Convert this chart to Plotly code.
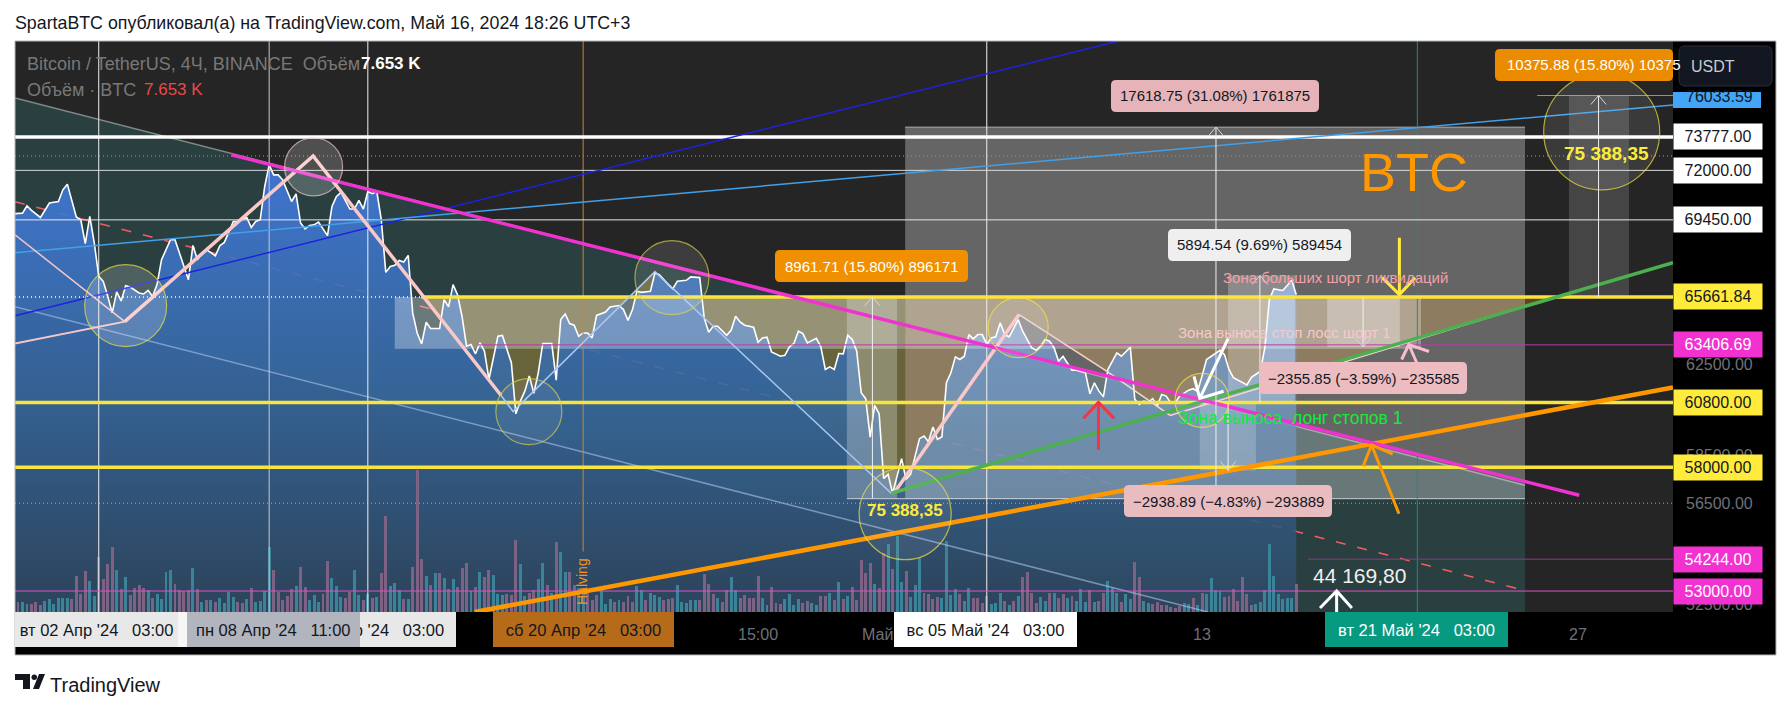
import numpy as np
import pandas as pd
import plotly.graph_objects as go

# 4H bars, bar 0 opens 29 Mar 23:00 (UTC+3)
BAR_START = pd.Timestamp("2024-03-29 23:00")

close_bar = [
    0, 2, 3, 4, 6, 8, 10, 11, 12, 13,
    14, 15, 16, 17, 18, 19, 20, 21, 22, 23,
    24, 25, 26, 28, 29, 30, 31, 32, 33, 35,
    36, 37, 38, 39, 40, 41, 42, 43, 45, 46,
    47, 49, 50, 52, 53, 54, 55, 56, 57, 58,
    59, 60, 62, 63, 64, 65, 66, 67, 68, 70,
    71, 72, 73, 75, 76, 77, 78, 79, 80, 81,
    82, 83, 84, 85, 86, 87, 88, 89, 90, 91,
    92, 93, 95, 96, 97, 98, 99, 100, 101, 102,
    103, 104, 105, 106, 108, 109, 111, 112, 113, 114,
    115, 116, 117, 118, 120, 121, 122, 123, 124, 125,
    126, 127, 128, 129, 130, 132, 133, 135, 136, 137,
    138, 139, 140, 141, 142, 143, 144, 146, 147, 148,
    150, 151, 153, 154, 155, 156, 157, 159, 160, 161,
    162, 163, 165, 166, 167, 168, 169, 171, 172, 173,
    174, 175, 176, 177, 179, 180, 181, 182, 183, 184,
    185, 186, 187, 188, 189, 190, 191, 192, 193, 194,
    195, 196, 198, 199, 200, 202, 203, 204, 205, 206,
    207, 208, 209, 210, 211, 212, 213, 214, 215, 216,
    217, 218, 219, 220, 221, 222, 224, 225, 227, 228,
    229, 230, 231, 232, 233, 234, 236, 237, 239, 240,
    241, 242, 243, 244, 246, 247, 249, 250, 251, 252,
    253, 254, 255, 256, 257, 258, 259, 260, 262, 263,
    264, 265, 266, 269, 270, 271, 272, 275, 276, 278,
    279, 280, 281, 283, 285, 286,
]
close_price = [
    69760, 69790, 70165, 69930, 69570, 70305, 70385, 70987, 71280, 70473,
    69595, 69456, 68255, 69625, 68300, 66650, 66410, 65700, 64900, 65900,
    65470, 66200, 66135, 65850, 65800, 65975, 65680, 66250, 67465, 68453,
    68453, 67795, 67135, 66491, 68170, 67465, 67795, 67957, 67660, 68155,
    68320, 69370, 69370, 69570, 69070, 69370, 69456, 71150, 72290, 71765,
    71765, 71505, 70385, 70780, 69290, 69000, 69170, 69200, 69340, 68660,
    70130, 70640, 70850, 70000, 70000, 70440, 70000, 70900, 70785, 70900,
    69456, 66845, 67135, 67185, 67430, 67350, 67675, 64900, 63960, 63450,
    64460, 64165, 64165, 65530, 65185, 66250, 65770, 64740, 63345, 63425,
    62995, 63500, 63115, 61830, 63805, 63840, 62585, 60300, 60860, 61305,
    61990, 61205, 62130, 63470, 63470, 61800, 64585, 64850, 64400, 64320,
    63805, 63960, 63960, 63730, 64780, 64945, 65185, 65250, 65057, 64550,
    65057, 65930, 65880, 65900, 65930, 66815, 66735, 66250, 66055, 66410,
    66460, 66625, 66590, 64660, 63990, 64270, 64270, 63850, 64085, 64740,
    64475, 64320, 64225, 63530, 63730, 63760, 63085, 62885, 62930, 63320,
    63470, 64040, 63930, 63500, 63710, 63320, 62280, 62400, 62280, 63010,
    62995, 63850, 63655, 63115, 61235, 60970, 59290, 60670, 60300, 57525,
    57700, 56900, 58365, 57496, 57700, 59220, 59335, 59090, 59725, 59190,
    59305, 61680, 62130, 62855, 62735, 62885, 63885, 63685, 63885, 63885,
    63425, 63730, 63780, 64435, 63885, 63780, 64585, 64040, 63275, 63160,
    63345, 63655, 63575, 63275, 62655, 62885, 62250, 62250, 62130, 61190,
    61680, 61305, 61055, 62280, 63040, 62885, 63300, 60938, 60715, 60860,
    60815, 60970, 60640, 61160, 61085, 60790, 60790, 61085, 61350, 61415,
    61300, 61990, 62735, 63160, 62960, 62280, 61905, 61585, 61930, 62200,
    63275, 65530, 66040, 65970, 66460, 65760,
]

# volume in thousands BTC, bars 1..286
volume = [
    2.7, 2.7, 2.2, 2.2, 2.7, 1.9, 3.1, 3.5, 2.2, 3.8,
    3.8, 3.8, 3.5, 9.9, 5.0, 11.3, 8.6, 4.5, 14.9, 9.1,
    13.2, 17.8, 11.6, 6.3, 9.6, 4.6, 6.6, 7.5, 6.6, 6.1,
    3.8, 4.9, 3.6, 11.0, 11.6, 7.7, 6.1, 5.8, 6.1, 12.1,
    6.3, 2.7, 3.4, 3.4, 2.7, 3.8, 2.5, 5.4, 4.2, 2.7,
    2.5, 3.6, 6.6, 2.7, 3.1, 5.8, 17.8, 11.6, 5.4, 3.4,
    4.5, 6.3, 7.2, 12.4, 6.9, 3.4, 4.7, 2.7, 5.0, 14.0,
    9.4, 7.2, 4.2, 3.9, 5.4, 11.6, 4.7, 3.4, 5.0, 3.9,
    4.2, 10.7, 26.3, 7.2, 8.0, 6.1, 3.6, 3.6, 12.4, 38.9,
    14.6, 9.9, 7.5, 10.7, 10.7, 9.4, 6.4, 9.1, 6.9, 12.1,
    13.5, 5.8, 6.9, 11.0, 9.6, 11.6, 10.2, 5.0, 4.7, 5.0,
    4.7, 19.7, 13.2, 4.5, 5.3, 6.1, 9.1, 13.5, 7.5, 5.2,
    19.2, 16.5, 11.0, 11.0, 7.5, 6.6, 5.6, 6.1, 3.4, 4.7,
    6.1, 2.3, 3.6, 2.8, 3.4, 2.8, 4.5, 2.8, 7.2, 6.1,
    3.4, 5.3, 4.7, 4.1, 3.4, 3.6, 3.8, 7.5, 2.8, 2.5,
    3.4, 3.4, 3.4, 10.5, 7.7, 5.0, 3.9, 2.8, 6.1, 9.6,
    6.1, 3.9, 4.7, 3.9, 3.9, 9.9, 3.9, 2.0, 6.9, 2.5,
    2.3, 3.6, 5.0, 2.0, 3.6, 2.5, 3.1, 2.5, 2.0, 4.5,
    4.5, 5.3, 3.4, 8.3, 3.6, 4.5, 6.9, 3.4, 14.3, 10.7,
    13.5, 7.7, 6.6, 16.1, 18.7, 11.8, 20.7, 8.3, 11.3, 4.2,
    7.5, 14.7, 5.3, 5.0, 3.6, 4.2, 3.9, 19.5, 4.7, 6.4,
    5.0, 3.1, 6.6, 3.9, 3.9, 2.5, 4.3, 2.3, 2.5, 5.3,
    3.1, 2.0, 3.1, 4.5, 9.6, 11.0, 5.3, 2.5, 4.2, 3.1,
    5.3, 5.3, 3.9, 5.0, 3.9, 4.5, 3.1, 6.4, 2.8, 6.1,
    2.8, 3.1, 5.3, 8.6, 6.6, 5.3, 2.8, 5.0, 3.6, 13.7,
    9.6, 3.1, 2.5, 2.3, 2.8, 2.0, 2.0, 1.5, 1.2, 1.7,
    2.5, 2.3, 3.9, 2.0, 5.3, 5.0, 9.4, 6.1, 5.8, 4.2,
    4.5, 6.4, 3.1, 9.6, 5.0, 2.0, 2.3, 2.8, 6.1, 18.7,
    9.9, 5.0, 3.6, 3.9, 3.9, 7.653,
]
# t = up bar, p = down bar
volume_dir = "".join([
    "pttppptttt", "ttppppttpp", "pptptppppt", "pttttppppt",
    "ptptpttttp", "ptpttttppp", "pptpptttpp", "tttppttptp",
    "tpptttptpp", "ptptptptpp", "ptptpptttp", "ppttppttpt",
    "pttppttppp", "tttptppptt", "ptttpppttt", "ttpppptppt",
    "tpppppttpp", "pttttppttp", "ptptptpppp", "ptpptpttpt",
    "ttpppptttt", "pttppppttt", "ptptpppptt", "ptpptptttp",
    "tpptttpttp", "pttppppppp", "ttptpttttp", "pppppptttt",
    "tttttp",
])

# trend lines: start/end bar and price
magenta_bars, magenta_prices = [48.6, 349.1], [72818, 56830]
orange_bars, orange_prices = [102.8, 370], [52197, 61470]
green_bars, green_prices = [195.7, 370], [56913, 67317]
blue_bars, blue_prices = [0.33, 246.4], [64770, 79113]
sky_bars, sky_prices = [0.33, 370], [67810, 75514]
channel_top_bars, channel_top_prices = [0.33, 337], [75900, 57245]
channel_low_bars, channel_low_prices = [0.33, 266.3], [65198, 52197]
channel_mid_bars, channel_mid_prices = [0.33, 336.6], [70370, 53040]
channel_fill_bars = [0.33, 337, 337, 0.33]
channel_fill_prices = [75900, 57245, 49240, 65198]

# zigzag pattern
zig_thin_bars, zig_thin_prices = [0.33, 24.8], [68700, 64490]
zig_low_bars, zig_low_prices = [0.33, 24.8], [63470, 64490]
zig_a_bars, zig_a_prices = [24.8, 66.8, 108.7], [64490, 72760, 61110]
zig_b_bars, zig_b_prices = [108.7, 111.4, 143, 195.7], [61110, 60400, 66880, 56913]
zig_c_bars, zig_c_prices = [196.6, 224.2], [57000, 64820]
zig_d_bars, zig_d_prices = [224.2, 243.8], [64820, 62190]
zig_e_bars, zig_e_prices = [243.8, 257.9, 344], [62190, 60230, 65661.84]

olive_left_bars = [90.9, 111.4, 137.4, 143, 149, 195.7, 198.8, 198.8]
olive_left_prices = [65661.84, 60400, 65661.84, 66880, 65661.84, 56913, 57730, 65661.84]
olive_right_bars = [198.8, 198.8, 224.2, 243.8, 257.9, 344]
olive_right_prices = [65661.84, 57730, 64820, 62190, 60230, 65661.84]

# date ranges / measure boxes: bar from, bar to, price low, price high, opacity
box_bar0 = [85, 198.8, 185.8, 292.9, 270.8, 264.5, 346.8]
box_bar1 = [313.8, 337, 197, 309.1, 285.7, 277, 360.2]
box_low = [63240, 56687, 56700, 63306, 60800, 57861, 65661.84]
box_high = [65661.84, 74306, 65661.84, 65661.84, 66695, 60800, 76037]
box_alpha = [0.30, 0.295, 0.25, 0.30, 0.25, 0.20, 0.15]

measure_bar = [268.1, 191.5, 277.9, 300.9, 270.8, 353.4]
measure_from = [56687, 56700, 60800, 65661.84, 60800, 65661.84]
measure_to = [74306, 65661.84, 66695, 63306, 57861, 76037]

# hand drawn arrows: tail, tip, barb, tip, barb
arrows = [
    ("#ffeb3b", 3, [309, 309, 305.2, 309, 312.5], [68550, 65770, 66590, 65770, 66590]),
    ("#f8bbd0", 3, [313.7, 311.1, 309.5, 311.1, 315.6], [62190, 63423, 62735, 63423, 63100]),
    ("#f23645", 3, [241.9, 241.9, 238.5, 241.9, 245.4], [58733, 60805, 60100, 60805, 60100]),
    ("#ff9800", 3, [308.9, 302.8, 300.9, 302.8, 307.5], [56070, 58950, 58040, 58950, 58557]),
    ("#ffffff", 3, [295, 295, 291.3, 295, 298.4], [52197, 53000, 52350, 53000, 52350]),
    ("#ffffff", 3, [270.8, 264.5, 269.8, 264.5, 263.2], [63700, 60982, 61300, 60982, 61965]),
]

# circles: centre bar, centre price, radius px
circle_bar = [25, 66.9, 114.9, 146.8, 224, 198.8, 354.1, 265]
circle_price = [65245, 72185, 60400, 66590, 64210, 56070, 74046, 60895]
circle_r = [41, 29, 33, 37, 30, 46, 58, 27]
circle_line = ["#f5e642", "#f5cfd0", "#d8d050", "#d8d050", "#f5e642", "#f5e642", "#f5e642", "#f5e642"]
circle_fill = [0.25, 0.28, 0.10, 0.16, 0.12, 0.10, 0.14, 0.10]

# price levels
level_price = [73777, 72000, 69450, 65661.84, 60800, 58000, 63406.69, 54244, 53000, 76033.59]
level_from = [0.33, 0.33, 0.33, 90.9, 0.33, 0.33, 103.5, 288.6, 0.33, 339.7]
level_color = ["#ffffff", "#d8d8d8", "#e8e8e8", "#fbe33c", "#f7e43c", "#f7e43c", "#b83aa5", "#8a3a85", "#e050c8", "#42a5f5"]
level_width = [3.5, 1, 1, 3.5, 3.5, 3.5, 1, 1, 1, 1]

vline_bar = [19, 57, 79, 127, 217, 313]
vline_color = ["#f0f0f0", "#c8c8d0", "#f0f0f0", "#c8873c", "#f0f0f0", "#089981"]
vline_low = [52197, 52197, 52197, 54545, 52197, 52197]

tag_price = [73777, 72000, 69450, 65661.84, 63406.69, 60800, 58000, 54244, 53000]
tag_fill = ["#ffffff", "#ffffff", "#ffffff", "#ffeb3b", "#f132d0", "#ffeb3b", "#ffeb3b", "#f132d0", "#f132d0"]
tag_text = ["#131722", "#131722", "#131722", "#131722", "#ffffff", "#131722", "#131722", "#ffffff", "#ffffff"]
axis_ticks = [62500, 58500, 56500, 52500]

Y_LOW, Y_HIGH = 52197, 79113
BAR_L, BAR_R = 0.33, 370
LEFT, RIGHT, TOP, BOTTOM = 15, 1673, 41, 612
FONT = "Liberation Sans"
NB = "\u00a0"


def at(bar):
    return BAR_START + pd.Timedelta(hours=float(bar) * 4)


def stamp(bar):
    return str(at(bar))


def times(bars):
    return [stamp(b) for b in bars]


def PX(x):
    return (x - LEFT) / (RIGHT - LEFT)


def PY(y):
    return (BOTTOM - y) / (BOTTOM - TOP)


fig = go.Figure()


def line(bars, prices, color, width=1, dash=None, yaxis="y3"):
    fig.add_trace(go.Scatter(x=times(bars), y=prices, mode="lines", yaxis=yaxis, hoverinfo="skip",
                             line=dict(color=color, width=width, dash=dash), showlegend=False))


def poly(bars, prices, color, yaxis="y"):
    fig.add_trace(go.Scatter(x=times(bars), y=prices, mode="lines", fill="toself", fillcolor=color,
                             yaxis=yaxis, hoverinfo="skip", line=dict(width=0), showlegend=False))


# ---- base layer, below the price area
poly(channel_fill_bars, channel_fill_prices, "#2a3f3f")
line(channel_top_bars, channel_top_prices, "#7d8a86", 1.5, yaxis="y")
line(channel_mid_bars, channel_mid_prices, "#f25c66", 1.5, dash="10px,12px", yaxis="y")
poly(olive_left_bars, olive_left_prices, "#67643c")
poly(olive_right_bars, olive_right_prices, "#60461f")

fig.add_trace(go.Scatter(
    x=times(close_bar), y=close_price, mode="lines", yaxis="y", hoverinfo="skip", showlegend=False,
    line=dict(color="#ffffff", width=1.6), fill="tozeroy",
    fillgradient=dict(type="vertical", start=Y_LOW, stop=72800,
                      colorscale=[[0, "rgba(46,72,98,0.86)"], [0.45, "rgba(54,105,160,0.86)"],
                                  [1, "rgba(66,122,222,0.92)"]]),
))

# ---- volume
vol_bars = list(range(1, len(volume) + 1))
fig.add_trace(go.Bar(
    x=times(vol_bars), y=volume, yaxis="y2", width=4 * 3600 * 1000 * 0.66, hoverinfo="skip", showlegend=False,
    marker=dict(color=["#3a8398" if d == "t" else "#7d6284" for d in volume_dir], line=dict(width=0)),
))

# ---- drawings above price
for b0, b1, lo, hi, a in zip(box_bar0, box_bar1, box_low, box_high, box_alpha):
    poly([b0, b1, b1, b0], [lo, lo, hi, hi], f"rgba(255,255,255,{a})", yaxis="y3")
line([85, 313.8], [63240, 63240], "rgba(255,255,255,0.12)", 1)
line([198.8, 337], [74306, 74306], "rgba(255,255,255,0.5)", 1)
line([185.8, 337], [56687, 56687], "rgba(255,255,255,0.7)", 1)
line([346.8, 360.2], [65661.84, 65661.84], "#ffffff", 1)

line(channel_low_bars, channel_low_prices, "rgba(170,195,235,0.6)", 1.5)

line([0.33, BAR_R], [72760, 72760], "#9a9a9a", 1, dash="1px,3px")
line([0.33, 90.9], [65661.84, 65661.84], "#ffffff", 1.5, dash="1px,3px")
line([0.33, BAR_R], [56500, 56500], "#a8a8a8", 1, dash="1px,3px")

for b, c, lo in zip(vline_bar, vline_color, vline_low):
    line([b, b], [Y_HIGH, lo], c, 1)

for p, b, c, w in zip(level_price, level_from, level_color, level_width):
    line([b, BAR_R], [p, p], c, w)

line(blue_bars, blue_prices, "#1c22e0", 1.5)
line(sky_bars, sky_prices, "#42a0e8", 1.5)
line(zig_thin_bars, zig_thin_prices, "#f5c6c8", 1.5)
line(zig_low_bars, zig_low_prices, "#f5c6c8", 2)
line(zig_a_bars, zig_a_prices, "#fbc8c8", 3.5)
line(zig_b_bars, zig_b_prices, "#aac6f0", 1.5)
line(zig_c_bars, zig_c_prices, "#fbc8c8", 3.5)
line(zig_d_bars, zig_d_prices, "#f5d5d0", 1.5)
line(zig_e_bars, zig_e_prices, "#f5d5d0", 1.5)
line(green_bars, green_prices, "#4caf50", 3.5)
line(orange_bars, orange_prices, "#ff9800", 4.5)
line(magenta_bars, magenta_prices, "#f032d0", 3.5)

for b, p0, p1 in zip(measure_bar, measure_from, measure_to):
    line([b, b], [p0, p1], "#f0f0f0", 1)
    sign = 1 if p1 > p0 else -1
    back = p1 * np.exp(-sign * 9 / 1375)
    line([b - 1.7, b, b + 1.7], [back, p1, back], "#d8d8d8", 1)

for color, width, bars, prices in arrows:
    line(bars, prices, color, width)

# circles as big markers, a circle shape gets stretched on the log axis
fig.add_trace(go.Scatter(
    x=times(circle_bar), y=circle_price, mode="markers", yaxis="y3", hoverinfo="skip", showlegend=False,
    marker=dict(size=[2 * r for r in circle_r], sizemode="diameter", symbol="circle",
                color=[f"rgba(255,255,255,{a})" for a in circle_fill],
                line=dict(color=circle_line, width=1.2)),
))

# ---- shapes
shapes = []
shapes.append(dict(type="rect", xref="paper", yref="paper", x0=PX(RIGHT), x1=PX(1776), y0=PY(655), y1=PY(TOP),
                   fillcolor="#000000", line=dict(width=0), layer="above"))
shapes.append(dict(type="rect", xref="paper", yref="paper", x0=PX(LEFT), x1=PX(1776), y0=PY(655), y1=PY(BOTTOM),
                   fillcolor="#000000", line=dict(width=0), layer="above"))
shapes.append(dict(type="rect", xref="paper", yref="paper", x0=PX(LEFT), x1=PX(1776), y0=PY(655), y1=PY(TOP),
                   fillcolor="rgba(0,0,0,0)", line=dict(color="#b4b6bc", width=1), layer="above"))


def rbox(x0, y0, x1, y1, color, r=5, border=None):
    a0, a1 = PX(x0), PX(x1)
    b0, b1 = PY(y1), PY(y0)
    rx, ry = r / (RIGHT - LEFT), r / (BOTTOM - TOP)
    path = (f"M {a0 + rx} {b1} L {a1 - rx} {b1} Q {a1} {b1} {a1} {b1 - ry} L {a1} {b0 + ry} "
            f"Q {a1} {b0} {a1 - rx} {b0} L {a0 + rx} {b0} Q {a0} {b0} {a0} {b0 + ry} L {a0} {b1 - ry} "
            f"Q {a0} {b1} {a0 + rx} {b1} Z")
    shapes.append(dict(type="path", xref="paper", yref="paper", path=path, fillcolor=color,
                       line=dict(width=1 if border else 0, color=border or color), layer="above"))


bubbles = [
    (1111, 80, 1319, 112, "#e6b4b8", "17618.75 (31.08%) 1761875", "#131722"),
    (775, 250, 968, 282, "#f09000", "8961.71 (15.80%) 896171", "#ffffff"),
    (1168, 229, 1351, 261, "#efefef", "5894.54 (9.69%) 589454", "#131722"),
    (1259, 362, 1467, 394, "#ecbcc0", "−2355.85 (−3.59%) −235585", "#131722"),
    (1124, 485, 1332, 517, "#e9bcc0", "−2938.89 (−4.83%) −293889", "#131722"),
]

annotations = []


def label(x, y, text, color="#ffffff", size=15, anchor="center", bold=False, bg=None, w=None, h=None, angle=0):
    a = dict(xref="paper", yref="paper", x=PX(x), y=PY(y), text=f"<b>{text}</b>" if bold else text,
             showarrow=False, xanchor=anchor, yanchor="middle", textangle=angle,
             font=dict(family=FONT, size=size, color=color), borderpad=0, borderwidth=0)
    if bg:
        a["bgcolor"] = bg
    if w:
        a["width"] = w
    if h:
        a["height"] = h
    annotations.append(a)


for x0, y0, x1, y1, fill, text, col in bubbles:
    rbox(x0, y0, x1, y1, fill)
    label((x0 + x1) / 2, (y0 + y1) / 2, text, col, 15)

# this one runs under the price scale
rbox(1495, 49, 1673, 81, "#eb8c00")
label(1507, 65, "10375.88 (15.80%) 10375", "#ffffff", 15, anchor="left")

# price scale, gray ticks first so the tags sit over them
for p in axis_ticks:
    annotations.append(dict(xref="paper", yref="y", x=PX(1719), y=np.log10(p), text=f"{p:.2f}", showarrow=False,
                            xanchor="center", yanchor="middle", font=dict(family=FONT, size=16, color="#6f7178")))

for p, fill, col in zip(tag_price, tag_fill, tag_text):
    annotations.append(dict(xref="paper", yref="y", x=PX(RIGHT), y=np.log10(p), text=f"{p:.2f}", showarrow=False,
                            xanchor="left", yanchor="middle", width=88, height=25, bgcolor=fill, borderpad=0,
                            font=dict(family=FONT, size=16, color=col)))

shapes.append(dict(type="rect", xref="paper", yref="paper", x0=PX(RIGHT), x1=PX(1761), y0=PY(108), y1=PY(92),
                   fillcolor="#42a5f5", line=dict(width=0), layer="above"))
label(1719, 97, "76033.59", "#131722", 16)
rbox(1679, 46, 1772, 86, "#131722", r=6, border="#2a2e39")
label(1713, 66, "USDT", "#c8cad0", 16)

# time scale
for x, text in [(757.7, "15:00"), (878, "Май"), (1202, "13"), (1578, "27")]:
    label(x, 634, text, "#6f7178", 16)

label(96.5, 629.5, f"вт 02 Апр '24{NB}{NB}{NB}03:00", "#131722", 16.5, bg="#e8e8e8", w=163, h=35)
label(183, 629.5, NB, bg="#f6f6f6", w=9.5, h=35)
label(367, 629.5, f"пт 12 Апр '24{NB}{NB}{NB}03:00", "#131722", 16.5, bg="#e8e8e8", w=178, h=35)
label(273.8, 629.5, f"пн 08 Апр '24{NB}{NB}{NB}11:00", "#131722", 16.5, bg="#b2b5be", w=172.5, h=35)
label(583.5, 629.5, f"сб 20 Апр '24{NB}{NB}{NB}03:00", "#131722", 16.5, bg="#b56b1a", w=181, h=35)
label(985.5, 629.5, f"вс 05 Май '24{NB}{NB}{NB}03:00", "#131722", 16.5, bg="#ffffff", w=183, h=35)
label(1416.5, 629.5, f"вт 21 Май '24{NB}{NB}{NB}03:00", "#ffffff", 16.5, bg="#089981", w=183, h=35)

# headers
label(15, 23, "SpartaBTC опубликовал(а) на TradingView.com, Май 16, 2024 18:26 UTC+3", "#131722", 17.8, anchor="left")
label(27, 64, f"Bitcoin / TetherUS, 4Ч, BINANCE{NB}{NB}Объём", "#787878", 18, anchor="left")
label(361, 64, "7.653 K", "#ffffff", 17, anchor="left", bold=True)
label(27, 90, "Объём · BTC", "#787878", 18, anchor="left")
label(144, 90, "7.653 K", "#e84a48", 17, anchor="left")

label(1414, 172, "BTC", "#ff9800", 54)
label(1606, 153, "75 388,35", "#fdeb3b", 19, bold=True)
label(905, 510, "75 388,35", "#fdeb3b", 17, bold=True)
label(1359, 575, "44 169,80", "#f0f0f0", 21)
label(1335, 277, "Зона больших шорт ликвидаций", "#f4a0a8", 15)
label(1284, 332, "Зона выноса стоп лосс шорт 1", "#f8c8cf", 15)
label(1290, 418, f"Зона выноса{NB}{NB}лонг стопов 1", "#18e838", 17.5)
label(582, 582, "Halving", "#f7931a", 14, angle=-90)

# footer wordmark
label(50, 685, "TradingView", "#131722", 20, anchor="left")
for pts in ([(15, 674), (30, 674), (30, 689), (23, 689), (23, 680), (15, 680)],
            [(33, 689), (39, 674), (45, 674), (39, 689)]):
    path = "M " + " L ".join(f"{PX(a)} {PY(b)}" for a, b in pts) + " Z"
    shapes.append(dict(type="path", xref="paper", yref="paper", path=path, fillcolor="#131722",
                       line=dict(width=0), layer="above"))
shapes.append(dict(type="circle", xref="paper", yref="paper", x0=PX(31.5), x1=PX(37), y0=PY(680), y1=PY(674.5),
                   fillcolor="#131722", line=dict(width=0), layer="above"))

hidden = dict(visible=False, showgrid=False, zeroline=False)
log_range = [float(np.log10(Y_LOW)), float(np.log10(Y_HIGH))]
fig.update_layout(
    width=1791, height=709, autosize=False,
    margin=dict(l=LEFT, r=1791 - RIGHT, t=TOP, b=709 - BOTTOM, pad=0),
    paper_bgcolor="#ffffff", plot_bgcolor="#252525", showlegend=False, bargap=0,
    xaxis=dict(type="date", range=[stamp(BAR_L), stamp(BAR_R)], **hidden),
    yaxis=dict(type="log", range=log_range, **hidden),
    yaxis2=dict(range=[0, 156], overlaying="y", **hidden),
    yaxis3=dict(type="log", range=log_range, overlaying="y", **hidden),
    shapes=shapes, annotations=annotations,
)

fig.write_html("out.html", config={"displayModeBar": False}, post_script="document.body.style.margin='0';")
